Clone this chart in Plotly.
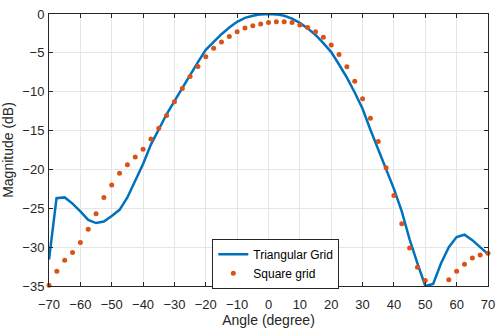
import plotly.graph_objects as go

angles = [-70, -67.5, -65, -62.5, -60, -57.5, -55, -52.5, -50, -47.5, -45, -42.5, -40,
          -37.5, -35, -32.5, -30, -27.5, -25, -22.5, -20, -17.5, -15, -12.5, -10, -7.5,
          -5, -2.5, 0, 2.5, 5, 7.5, 10, 12.5, 15, 17.5, 20, 22.5, 25, 27.5, 30, 32.5,
          35, 37.5, 40, 42.5, 45, 47.5, 50, 52.5, 55, 57.5, 60, 62.5, 65, 67.5, 70]

square_grid = [-34.9, -33.1, -31.7, -30.7, -29.4, -27.7, -25.7, -23.6, -22.0, -20.5, -19.4,
               -18.4, -17.4, -16.1, -14.7, -13.05, -11.3, -9.6, -8.05, -6.75, -5.5, -4.4,
               -3.6, -2.9, -2.3, -1.8, -1.5, -1.3, -1.1, -1.0, -1.0, -1.1, -1.4, -1.75,
               -2.3, -3.0, -4.0, -5.2, -6.8, -8.65, -10.9, -13.4, -16.4, -19.8, -23.35,
               -27.0, -30.1, -32.6, -34.3, -35.1, -35.1, -34.2, -33.1, -32.2, -31.4, -31.0,
               -30.8]

tri_angles = [-70, -67.6, -65, -62.5, -60, -57.5, -55, -52.5, -50, -47.5, -45, -42.5, -40,
              -37.5, -35, -32.5, -30, -27.5, -25, -22.5, -20, -17.5, -15, -12.5, -10, -7.5,
              -5, -2.5, 0, 2.5, 5, 7.5, 10, 12.5, 15, 17.5, 20, 22.5, 25, 27.5, 30, 32.5,
              35, 37.5, 40, 42.5, 45, 47.5, 50, 52.5, 55, 57.5, 60, 62.5, 65, 67.5, 70]

triangular_grid = [-31.6, -23.7, -23.6, -24.4, -25.4, -26.5, -26.9, -26.7, -26.0, -25.2, -23.6,
                   -21.4, -19.3, -16.8, -14.8, -12.9, -11.2, -9.5, -7.9, -6.2, -4.6, -3.6,
                   -2.6, -1.75, -1.0, -0.5, -0.22, -0.05, 0.0, -0.05, -0.22, -0.6, -1.15, -1.85,
                   -2.7, -3.75, -4.9, -6.5, -8.2, -10.1, -12.2, -14.9, -17.4, -19.8, -22.5,
                   -25.4, -29.0, -32.1, -35.0, -34.75, -32.1, -30.0, -28.7, -28.4, -29.1,
                   -30.0, -30.9]

x_ticks = list(range(-70, 71, 10))
y_ticks = list(range(-35, 1, 5))

FONT = "Liberation Sans, Arial, sans-serif"

fig = go.Figure()
fig.add_trace(go.Scatter(x=tri_angles, y=triangular_grid, mode="lines",
                         name="Triangular Grid", cliponaxis=True,
                         line=dict(color="#0072BD", width=2.5)))
fig.add_trace(go.Scatter(x=angles, y=square_grid, mode="markers",
                         name="Square grid", cliponaxis=False,
                         marker=dict(color="#D95319", size=5)))

axis_common = dict(
    showgrid=True, gridcolor="#e6e6e6", gridwidth=1,
    showline=True, linecolor="#262626", linewidth=1, mirror="ticks",
    ticks="inside", ticklen=4, tickcolor="#262626", tickwidth=1,
    zeroline=False,
    tickfont=dict(family=FONT, size=13, color="#262626"),
)

fig.update_layout(
    width=502, height=336,
    margin=dict(l=49, r=7, t=8, b=50),
    plot_bgcolor="white", paper_bgcolor="white",
    font=dict(family=FONT, size=13, color="#262626"),
    xaxis=dict(range=[-70, 70], tickvals=x_ticks, ticklabelstandoff=6,
               title=dict(text="Angle (degree)", standoff=4,
                          font=dict(size=14, color="#262626")),
               **axis_common),
    yaxis=dict(range=[-35, 0], tickvals=y_ticks, ticklabelstandoff=1,
               title=dict(text="Magnitude (dB)", standoff=5,
                          font=dict(size=14, color="#262626")),
               **axis_common),
    legend=dict(x=0.372, y=0.174, xanchor="left", yanchor="top",
                bgcolor="white", bordercolor="#262626", borderwidth=1,
                font=dict(family=FONT, size=12, color="black"),
                tracegroupgap=0, itemwidth=30),
    showlegend=True,
)

fig.write_html("out.html")
